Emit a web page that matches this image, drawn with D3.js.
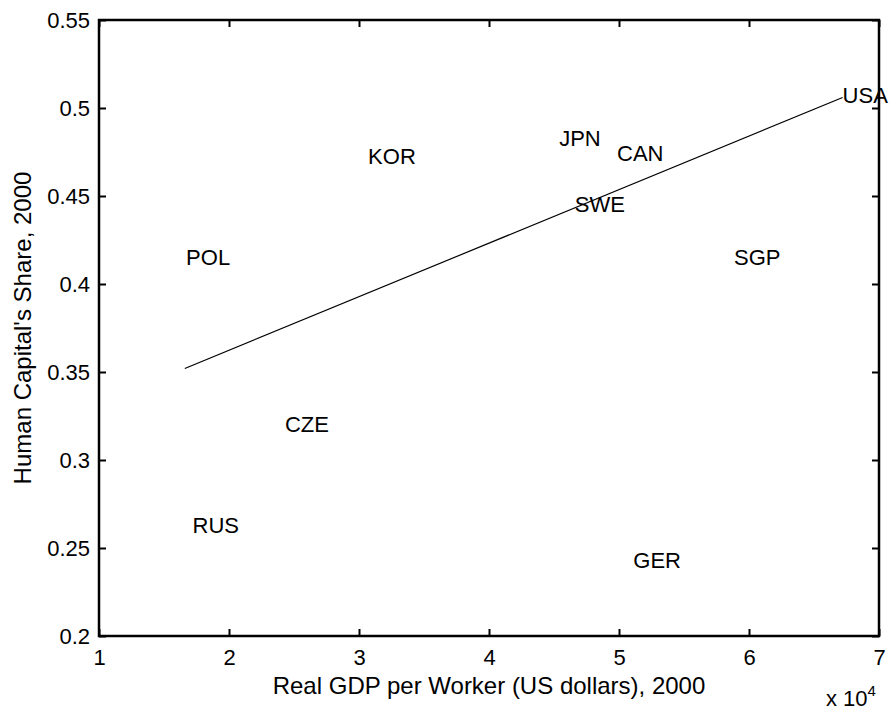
<!DOCTYPE html>
<html>
<head>
<meta charset="utf-8">
<script src="https://cdn.jsdelivr.net/npm/d3@7"></script>
<style>
  body { margin: 0; background: #fff; }
  text { font-family: "Liberation Sans", Arial, sans-serif; fill: #000; }
</style>
</head>
<body>
<div id="chart"></div>
<script>
// country labels placed at (gdp per worker, human capital share)
var countries = ["USA", "JPN", "CAN", "SWE", "SGP", "POL", "KOR", "CZE", "RUS", "GER"];
var gdpPerWorker = [67200, 45400, 49850, 46600, 58850, 16700, 30700, 24300, 17200, 51100];
var hcShare = [0.507, 0.483, 0.4744, 0.4455, 0.4153, 0.415, 0.4727, 0.3205, 0.263, 0.2432];

// fitted line endpoints
var fitX = [16600, 67200];
var fitY = [0.352, 0.506];

var xTicks = [1, 2, 3, 4, 5, 6, 7];
var yTicks = [0.2, 0.25, 0.3, 0.35, 0.4, 0.45, 0.5, 0.55];

var svgWidth = 892;
var svgHeight = 711;

var margin = { top: 20, right: 13, bottom: 75, left: 99 };
var width = svgWidth - margin.left - margin.right;
var height = svgHeight - margin.top - margin.bottom;

var svg = d3.select("#chart")
  .append("svg").attr("width", svgWidth).attr("height", svgHeight);

var chartGroup = svg.append("g")
  .attr("transform", `translate(${margin.left}, ${margin.top})`);

var xScale = d3.scaleLinear().domain([1, 7]).range([0, width]);
var yScale = d3.scaleLinear().domain([0.2, 0.55]).range([height, 0]);

var tickLen = 7;
var fontSize = 22;
var labelSize = 24;

// axes (ticks inward, matlab style box)
var bottomAxis = d3.axisBottom(xScale).tickValues(xTicks).tickSize(-tickLen).tickPadding(13).tickFormat(d3.format("d"));
var topAxis = d3.axisTop(xScale).tickValues(xTicks).tickSize(-tickLen).tickFormat("");
var leftAxis = d3.axisLeft(yScale).tickValues(yTicks).tickSize(-tickLen).tickPadding(9).tickFormat(d => String(+d.toFixed(2)));
var rightAxis = d3.axisRight(yScale).tickValues(yTicks).tickSize(-tickLen).tickFormat("");

function styleAxis(g) {
  g.select(".domain").remove();
  g.selectAll(".tick line").attr("stroke", "#000").attr("stroke-width", 2);
  g.selectAll(".tick text")
    .style("font-family", "'Liberation Sans', Arial, sans-serif")
    .style("font-size", fontSize + "px")
    .attr("fill", "#000");
}

chartGroup.append("g").attr("transform", `translate(0, ${height})`).call(bottomAxis).call(styleAxis);
chartGroup.append("g").call(topAxis).call(styleAxis);
chartGroup.append("g").call(leftAxis).call(styleAxis);
chartGroup.append("g").attr("transform", `translate(${width}, 0)`).call(rightAxis).call(styleAxis);

chartGroup.append("rect")
  .attr("x", 0).attr("y", 0)
  .attr("width", width).attr("height", height)
  .attr("fill", "none").attr("stroke", "#000").attr("stroke-width", 2.5);

// fit line
var line = d3.line().x(d => xScale(d[0] / 1e4)).y(d => yScale(d[1]));
chartGroup.append("path")
  .datum(fitX.map((x, i) => [x, fitY[i]]))
  .attr("d", line)
  .attr("fill", "none").attr("stroke", "#000").attr("stroke-width", 1.2);

// country labels
chartGroup.selectAll(".country")
  .data(countries)
  .enter()
  .append("text")
  .attr("class", "country")
  .attr("x", (d, i) => xScale(gdpPerWorker[i] / 1e4))
  .attr("y", (d, i) => yScale(hcShare[i]))
  .attr("dy", "0.35em")
  .style("font-size", fontSize + "px")
  .text(d => d);

// axis labels
chartGroup.append("text")
  .attr("x", width / 2)
  .attr("y", height + 58)
  .attr("text-anchor", "middle")
  .style("font-size", labelSize + "px")
  .text("Real GDP per Worker (US dollars), 2000");

var expo = chartGroup.append("text")
  .attr("x", width - 53)
  .attr("y", height + 70)
  .style("font-size", fontSize + "px");
expo.append("tspan").text("x 10");
expo.append("tspan").attr("dy", -10).style("font-size", "15px").text("4");

chartGroup.append("text")
  .attr("transform", "rotate(-90)")
  .attr("x", -height / 2)
  .attr("y", -68)
  .attr("text-anchor", "middle")
  .style("font-size", labelSize + "px")
  .text("Human Capital's Share, 2000");
</script>
</body>
</html>
